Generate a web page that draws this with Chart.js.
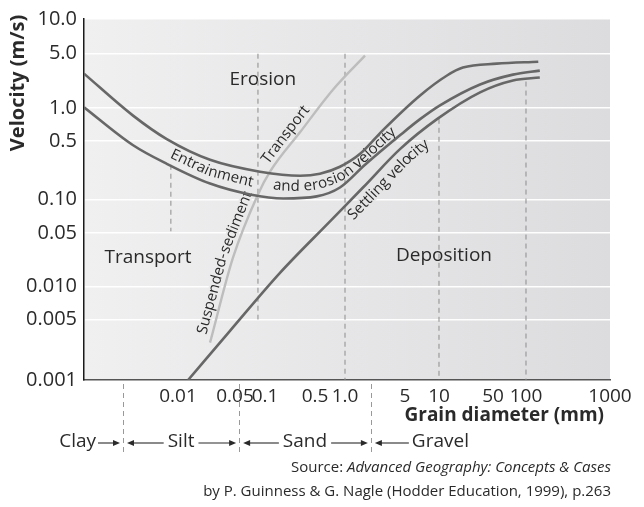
<!DOCTYPE html>
<html>
<head>
<meta charset="utf-8">
<script src="https://cdn.jsdelivr.net/npm/chart.js@4.4.1/dist/chart.umd.min.js"></script>
<style>
  html, body { margin: 0; padding: 0; background: #fff; }
  #wrap { width: 644px; height: 507px; position: relative; }
</style>
</head>
<body>
<div id="wrap"><canvas id="mycanvas" width="644" height="507"></canvas></div>
<script>
// grain diameter (mm) against velocity (m/s)
var entrainTop = [[0.001, 2.78], [0.0033, 0.86], [0.0076, 0.52], [0.0247, 0.298], [0.089, 0.215], [0.31, 0.192],
  [0.56, 0.203], [0.89, 0.246], [1.5, 0.351], [2.77, 0.63], [6.8, 1.46], [12.7, 2.63], [20.4, 3.32], [54, 3.73], [140, 3.95]];
var entrainLow = [[0.001, 1.03], [0.0033, 0.448], [0.0076, 0.267], [0.0247, 0.155], [0.071, 0.115], [0.18, 0.103],
  [0.52, 0.109], [0.89, 0.139], [1.71, 0.26], [4.4, 0.567], [6.8, 0.794], [10.3, 1.09], [34, 2.02], [76, 2.70], [146, 3.04]];
var settling = [[0.0133, 0.001], [0.0434, 0.0037], [0.162, 0.0152], [0.707, 0.0638], [1.62, 0.139], [4.4, 0.402],
  [9.6, 0.794], [34, 1.60], [76, 2.27], [146, 2.48]];
var suspended = [[0.0247, 0.0027], [0.047, 0.0237], [0.085, 0.115], [0.1175, 0.215], [0.31, 0.604], [0.76, 1.74], [1.71, 4.72]];

// dashed guide lines: diameter, top velocity, bottom velocity
var guideX = [0.0084, 0.085, 1, 10, 100];
var guideTop = [0.26, 5, 5, 0.8, 2.2];
var guideBottom = [0.052, 0.005, 0.001, 0.001, 0.001];

var yTicks = [0.001, 0.005, 0.01, 0.05, 0.1, 0.5, 1, 5, 10];
var yTickLabels = ['0.001', '0.005', '0.010', '0.05', '0.10', '0.5', '1.0', '5.0', '10.0'];
var xTicks = [0.01, 0.05, 0.1, 0.5, 1, 5, 10, 50, 100, 1000];
var xTickLabels = ['0.01', '0.05', '0.1', '0.5', '1.0', '5', '10', '50', '100', '1000'];

// the printed axes are not a true log scale: where each value sits along its axis (0..1)
var yWarpVals = [0.001, 0.005, 0.01, 0.05, 0.1, 0.5, 1, 5, 10];
var yWarpFrac = [0, 0.1676, 0.2582, 0.4066, 0.5, 0.6621, 0.7527, 0.9038, 1];
var xWarpVals = [0.001, 0.01, 0.05, 0.1, 0.5, 1, 5, 10, 50, 100, 1000];
var xWarpFrac = [0, 0.1787, 0.2871, 0.3441, 0.4392, 0.4962, 0.6103, 0.6749, 0.7776, 0.8403, 1];

var sizeClasses = ['Clay', 'Silt', 'Sand', 'Gravel'];
var classBounds = [0.0026, 0.055, 2];

var regionLabels = ['Erosion', 'Transport', 'Deposition'];
var regionAt = [[0.095, 2.35], [0.0048, 0.0237], [11.6, 0.0252]];

var FONT = '"Open Sans", "Noto Sans", sans-serif';
var INK = '#2a2a2a';

function warp(v, vals, fracs) {
  var lv = Math.log10(v);
  for (var i = 0; i < vals.length - 1; i++) {
    var a = Math.log10(vals[i]), b = Math.log10(vals[i + 1]);
    if (lv <= b || i === vals.length - 2) return fracs[i] + (lv - a) / (b - a) * (fracs[i + 1] - fracs[i]);
  }
}
function unwarp(f, vals, fracs) {
  for (var i = 0; i < fracs.length - 1; i++) {
    if (f <= fracs[i + 1] || i === fracs.length - 2) {
      var a = Math.log10(vals[i]), b = Math.log10(vals[i + 1]);
      return Math.pow(10, a + (f - fracs[i]) / (fracs[i + 1] - fracs[i]) * (b - a));
    }
  }
}
var warps = { x: [xWarpVals, xWarpFrac], y: [yWarpVals, yWarpFrac] };

class StretchLogScale extends Chart.LogarithmicScale {
  getPixelForValue(value) {
    if (value === undefined || value === null || value <= 0) value = this.min;
    var w = warps[this.axis];
    return this.getPixelForDecimal(warp(value, w[0], w[1]));
  }
  getValueForPixel(pixel) {
    var w = warps[this.axis];
    return unwarp(this.getDecimalForPixel(pixel), w[0], w[1]);
  }
}
StretchLogScale.id = 'stretchlog';
StretchLogScale.defaults = Chart.LogarithmicScale.defaults;
Chart.register(StretchLogScale);

function toXY(pairs) {
  return pairs.map(function (p) { return { x: p[0], y: p[1] }; });
}

var datasets = [
  { data: toXY(entrainTop), borderColor: '#676767', borderWidth: 2.6 },
  { data: toXY(entrainLow), borderColor: '#676767', borderWidth: 2.6 },
  { data: toXY(settling), borderColor: '#676767', borderWidth: 2.6 },
  { data: toXY(suspended), borderColor: '#bdbdbd', borderWidth: 2.4 }
];
datasets.forEach(function (d) {
  d.showLine = true; d.pointRadius = 0; d.cubicInterpolationMode = 'monotone'; d.fill = false;
});
for (var g = 0; g < guideX.length; g++) {
  datasets.push({
    data: [{ x: guideX[g], y: guideTop[g] }, { x: guideX[g], y: guideBottom[g] }],
    showLine: true, pointRadius: 0, borderColor: '#8c8c8c', borderWidth: 1, borderDash: [5, 4], tension: 0
  });
}

// helpers for writing text along the curves
function curvePts(chart, i) {
  return chart.getDatasetMeta(i).data.map(function (p) { return [p.x, p.y]; });
}
function interpY(pts, x) {
  for (var k = 0; k < pts.length - 1; k++) {
    if (x <= pts[k + 1][0] || k === pts.length - 2) {
      var t = (x - pts[k][0]) / (pts[k + 1][0] - pts[k][0]);
      return pts[k][1] + t * (pts[k + 1][1] - pts[k][1]);
    }
  }
}
function samplePath(chart, idx, v0, v1) {
  var xs = chart.scales.x;
  var a = xs.getPixelForValue(v0), b = xs.getPixelForValue(v1);
  var sets = idx.map(function (i) { return curvePts(chart, i); });
  var out = [];
  for (var s = 0; s <= 40; s++) {
    var px = a + (b - a) * s / 40;
    var sum = 0;
    sets.forEach(function (pts) { sum += interpY(pts, px); });
    out.push([px, sum / sets.length]);
  }
  return out;
}
function haloColor(chart, x) {
  var a = chart.chartArea;
  var t = Math.max(0, Math.min(1, (x - a.left) / (a.right - a.left)));
  var c = Math.round(240 - t * 20);
  return 'rgb(' + c + ',' + c + ',' + (c + 1) + ')';
}
function textOnPath(chart, text, pts, off) {
  var ctx = chart.ctx;
  var cum = [0];
  for (var k = 1; k < pts.length; k++) {
    cum.push(cum[k - 1] + Math.hypot(pts[k][0] - pts[k - 1][0], pts[k][1] - pts[k - 1][1]));
  }
  var total = cum[cum.length - 1];
  var d = (total - ctx.measureText(text).width) / 2;
  var glyphs = [];
  for (var c = 0; c < text.length; c++) {
    var cw = ctx.measureText(text[c]).width;
    var m = d + cw / 2, j = 1;
    while (j < cum.length - 1 && cum[j] < m) j++;
    var t = (m - cum[j - 1]) / (cum[j] - cum[j - 1] || 1);
    var x = pts[j - 1][0] + t * (pts[j][0] - pts[j - 1][0]);
    var y = pts[j - 1][1] + t * (pts[j][1] - pts[j - 1][1]);
    var ang = Math.atan2(pts[j][1] - pts[j - 1][1], pts[j][0] - pts[j - 1][0]);
    glyphs.push({ ch: text[c], x: x + off * Math.sin(ang), y: y - off * Math.cos(ang), a: ang });
    d += cw;
  }
  ctx.textAlign = 'center';
  ctx.textBaseline = 'middle';
  ctx.lineWidth = 4;
  ctx.lineJoin = 'round';
  [true, false].forEach(function (halo) {
    glyphs.forEach(function (gl) {
      ctx.save();
      ctx.translate(gl.x, gl.y);
      ctx.rotate(gl.a);
      if (halo) { ctx.strokeStyle = haloColor(chart, gl.x); ctx.strokeText(gl.ch, 0, 0); }
      else { ctx.fillStyle = INK; ctx.fillText(gl.ch, 0, 0); }
      ctx.restore();
    });
  });
}

var curveLabels = [
  { text: 'Entrainment', curves: [0, 1], from: 0.0085, to: 0.076, off: 0 },
  { text: 'and erosion velocity', curves: [0, 1], from: 0.125, to: 3.8, off: 0 },
  { text: 'Settling velocity', curves: [2], from: 0.92, to: 6.8, off: -12 },
  { text: 'Suspended-sediment', curves: [3], from: 0.0247, to: 0.09, off: 10 },
  { text: 'Transport', curves: [3], from: 0.14, to: 0.45, off: 10 }
];

var backdrop = {
  id: 'backdrop',
  beforeDraw: function (chart) {
    var ctx = chart.ctx, a = chart.chartArea;
    var grad = ctx.createLinearGradient(a.left, 0, a.right, 0);
    grad.addColorStop(0, '#f0f0f1');
    grad.addColorStop(1, '#dcdcde');
    ctx.save();
    ctx.fillStyle = grad;
    ctx.fillRect(a.left, a.top, a.right - a.left, a.bottom - a.top);
    ctx.restore();
  },
  beforeDatasetsDraw: function (chart) {
    var ctx = chart.ctx, xs = chart.scales.x, ys = chart.scales.y;
    ctx.save();
    ctx.font = '19px ' + FONT;
    ctx.fillStyle = INK;
    ctx.textAlign = 'center';
    ctx.textBaseline = 'middle';
    regionLabels.forEach(function (t, i) {
      ctx.fillText(t, xs.getPixelForValue(regionAt[i][0]), ys.getPixelForValue(regionAt[i][1]));
    });
    ctx.font = '15px ' + FONT;
    curveLabels.forEach(function (l) {
      textOnPath(chart, l.text, samplePath(chart, l.curves, l.from, l.to), l.off);
    });
    ctx.restore();
  }
};

function arrow(ctx, x0, x1, y) {
  var dir = x1 > x0 ? 1 : -1;
  ctx.beginPath();
  ctx.moveTo(x0, y);
  ctx.lineTo(x1 - dir * 5, y);
  ctx.stroke();
  ctx.beginPath();
  ctx.moveTo(x1, y);
  ctx.lineTo(x1 - dir * 7, y - 3);
  ctx.lineTo(x1 - dir * 7, y + 3);
  ctx.closePath();
  ctx.fill();
}

var outside = {
  id: 'outside',
  afterDraw: function (chart) {
    var ctx = chart.ctx, xs = chart.scales.x, a = chart.chartArea;
    ctx.save();
    ctx.fillStyle = INK;
    ctx.strokeStyle = INK;

    // axis titles
    ctx.font = 'bold 19px ' + FONT;
    ctx.textAlign = 'right';
    ctx.textBaseline = 'middle';
    ctx.fillText('Grain diameter (mm)', a.right - 6, 416);
    ctx.font = 'bold 20px ' + FONT;
    ctx.save();
    ctx.translate(18, 83);
    ctx.rotate(-Math.PI / 2);
    ctx.textAlign = 'center';
    ctx.fillText('Velocity (m/s)', 0, 0);
    ctx.restore();

    // grain size classes
    var bx = classBounds.map(function (b) { return xs.getPixelForValue(b); });
    ctx.save();
    ctx.strokeStyle = '#999';
    ctx.lineWidth = 1;
    ctx.setLineDash([5, 4]);
    bx.forEach(function (x) {
      ctx.beginPath();
      ctx.moveTo(Math.round(x) + 0.5, a.bottom + 4);
      ctx.lineTo(Math.round(x) + 0.5, 456);
      ctx.stroke();
    });
    ctx.restore();

    var rowY = 442;
    ctx.font = '19px ' + FONT;
    ctx.lineWidth = 1.1;
    ctx.textBaseline = 'middle';
    ctx.textAlign = 'right';
    ctx.fillText(sizeClasses[0], bx[0] - 27, rowY);
    arrow(ctx, bx[0] - 25, bx[0] - 3, rowY + 1);
    for (var i = 1; i < 3; i++) {
      var l = bx[i - 1], r = bx[i], mid = (l + r) / 2;
      var w = ctx.measureText(sizeClasses[i]).width;
      ctx.textAlign = 'center';
      ctx.fillText(sizeClasses[i], mid, rowY);
      arrow(ctx, mid - w / 2 - 4, l + 4, rowY + 1);
      arrow(ctx, mid + w / 2 + 4, r - 3, rowY + 1);
    }
    ctx.textAlign = 'left';
    ctx.fillText(sizeClasses[3], bx[2] + 41, rowY);
    arrow(ctx, bx[2] + 38, bx[2] + 4, rowY + 1);

    // source
    ctx.font = 'italic 15px ' + FONT;
    var book = 'Advanced Geography: Concepts & Cases';
    var wb = ctx.measureText(book).width;
    ctx.textAlign = 'right';
    ctx.fillText(book, 611, 468);
    ctx.font = '15px ' + FONT;
    ctx.fillText('Source: ', 611 - wb, 468);
    ctx.fillText('by P. Guinness & G. Nagle (Hodder Education, 1999), p.263', 611, 492);
    ctx.restore();
  }
};

var ctx = document.getElementById('mycanvas');
var chart = new Chart(ctx, {
  type: 'scatter',
  data: { datasets: datasets },
  plugins: [backdrop, outside],
  options: {
    responsive: false,
    animation: false,
    layout: { padding: { left: 0, right: 34, top: 16, bottom: 0 } },
    plugins: { legend: { display: false }, tooltip: { enabled: false } },
    scales: {
      x: {
        type: 'stretchlog', min: 0.001, max: 1000,
        afterBuildTicks: function (s) { s.ticks = xTicks.map(function (v) { return { value: v }; }); },
        afterFit: function (s) { s.height = 127; },
        ticks: {
          autoSkip: false, maxRotation: 0, minRotation: 0, padding: -3, color: INK,
          font: { family: FONT, size: 19 },
          callback: function (v, i) { return xTickLabels[i]; }
        },
        grid: { display: false },
        border: { color: '#555', width: 1.5 }
      },
      y: {
        type: 'stretchlog', min: 0.001, max: 10,
        afterBuildTicks: function (s) { s.ticks = yTicks.map(function (v) { return { value: v }; }); },
        afterFit: function (s) { s.width = 84; },
        ticks: {
          autoSkip: false, padding: 7, color: INK,
          font: { family: FONT, size: 20 },
          callback: function (v, i) { return yTickLabels[i]; }
        },
        grid: { color: 'rgba(255,255,255,0.95)', lineWidth: 1.6, drawTicks: false },
        border: { color: '#1a1a1a', width: 1.5 }
      }
    }
  }
});
</script>
</body>
</html>
